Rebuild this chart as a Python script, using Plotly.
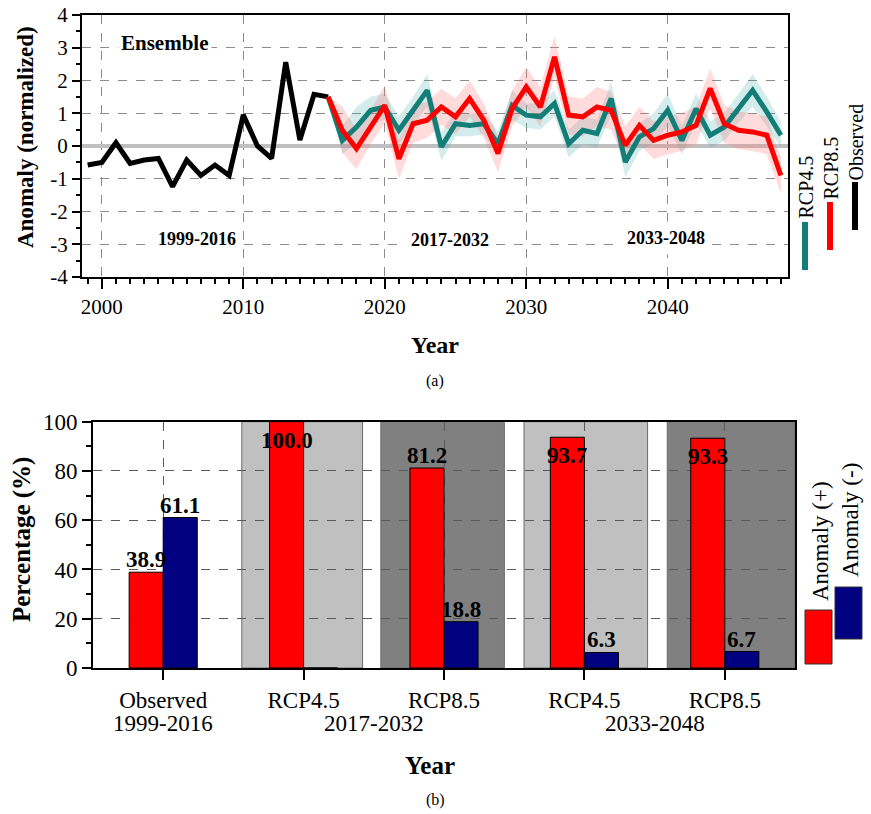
import plotly.graph_objects as go

W, H = 871, 814
FONT = "Liberation Serif, Times New Roman, serif"

# ---------------- data (a) ----------------
obs_years = list(range(1999, 2017))
obs_values = [-0.58, -0.5, 0.1, -0.53, -0.43, -0.38, -1.24, -0.43, -0.9,
              -0.58, -0.9, 0.95, 0.0, -0.38, 2.56, 0.18, 1.58, 1.5]

proj_years = list(range(2016, 2049))
rcp45_mean = [1.5, 0.17, 0.58, 1.09, 1.19, 0.48, 1.09, 1.7, -0.03, 0.68, 0.63,
              0.68, 0.07, 1.24, 0.94, 0.89, 1.3, 0.07, 0.48, 0.38, 1.45, -0.49,
              0.28, 0.53, 1.09, 0.17, 1.14, 0.33, 0.58, 1.14, 1.7, 1.04, 0.33]
rcp45_upper = [1.5, 0.6, 1.2, 1.5, 1.6, 0.9, 1.5, 2.2, 0.4, 1.1, 1.0, 1.0, 0.45,
               1.7, 1.3, 1.3, 1.7, 0.5, 0.9, 0.8, 1.95, -0.05, 0.7, 1.0, 1.6,
               0.6, 1.6, 0.75, 1.0, 1.6, 2.2, 1.5, 0.75]
rcp45_lower = [1.5, -0.25, 0.1, 0.65, 0.8, 0.05, 0.65, 1.2, -0.45, 0.3, 0.3,
               0.35, -0.3, 0.8, 0.55, 0.5, 0.9, -0.35, 0.05, -0.05, 0.95, -0.95,
               -0.15, 0.1, 0.6, -0.25, 0.7, -0.05, 0.15, 0.7, 1.2, 0.6, -0.05]
rcp85_mean = [1.5, 0.48, -0.08, 0.58, 1.24, -0.39, 0.68, 0.79, 1.19, 0.89, 1.45,
              0.79, -0.23, 1.14, 1.8, 1.19, 2.72, 0.94, 0.89, 1.19, 1.09, 0.02,
              0.63, 0.17, 0.33, 0.43, 0.63, 1.76, 0.68, 0.48, 0.43, 0.33, -0.9]
rcp85_upper = [1.5, 1.2, 0.5, 1.1, 1.85, 0.2, 1.25, 1.35, 1.75, 1.45, 2.0, 1.3,
               0.3, 1.7, 2.4, 1.8, 3.35, 1.5, 1.45, 1.8, 1.65, 0.6, 1.2, 0.75,
               0.9, 1.0, 1.2, 2.35, 1.25, 1.05, 1.0, 0.9, -0.35]
rcp85_lower = [1.5, -0.2, -0.7, 0.05, 0.7, -1.0, 0.1, 0.25, 0.65, 0.35, 0.9,
               0.25, -0.8, 0.6, 1.2, 0.6, 2.1, 0.35, 0.3, 0.6, 0.5, -0.55, 0.05,
               -0.4, -0.25, -0.15, 0.05, 1.15, 0.1, -0.1, -0.15, -0.25, -1.45]

y_ticks_a = [-4, -3, -2, -1, 0, 1, 2, 3, 4]
y_ticklabels_a = ["-4", "-3", "-2", "-1", "0", "1", "2", "3", "4"]
x_ticks_a = [2000, 2010, 2020, 2030, 2040]

# ---------------- data (b) ----------------
categories = ["Observed", "RCP4.5", "RCP8.5", "RCP4.5", "RCP8.5"]
periods = ["1999-2016", "2017-2032", "2033-2048"]
period_pos = [0, 1.5, 3.5]
anom_pos = [38.9, 100.0, 81.2, 93.7, 93.3]
anom_neg = [61.1, 0.0, 18.8, 6.3, 6.7]

TEAL = "#137d77"
RED = "#ff0000"
NAVY = "#000080"


def px(x):
    return x / W


def py(y):
    return 1 - y / H


fig = go.Figure()

# ---- (a) traces ----
fig.add_trace(go.Scatter(
    x=proj_years + proj_years[::-1], y=rcp45_upper + rcp45_lower[::-1],
    fill="toself", fillcolor="rgba(60,175,170,0.22)", line=dict(width=0),
    mode="lines", showlegend=False, hoverinfo="skip", xaxis="x", yaxis="y"))
fig.add_trace(go.Scatter(
    x=proj_years + proj_years[::-1], y=rcp85_upper + rcp85_lower[::-1],
    fill="toself", fillcolor="rgba(255,110,110,0.25)", line=dict(width=0),
    mode="lines", showlegend=False, hoverinfo="skip", xaxis="x", yaxis="y"))
fig.add_trace(go.Scatter(x=obs_years, y=obs_values, mode="lines",
                         line=dict(color="black", width=5), showlegend=False,
                         xaxis="x", yaxis="y"))
fig.add_trace(go.Scatter(x=proj_years, y=rcp45_mean, mode="lines",
                         line=dict(color=TEAL, width=5), showlegend=False,
                         xaxis="x", yaxis="y"))
fig.add_trace(go.Scatter(x=proj_years, y=rcp85_mean, mode="lines",
                         line=dict(color=RED, width=5), showlegend=False,
                         xaxis="x", yaxis="y"))

# ---- (b) traces ----
xcat = list(range(len(categories)))
fig.add_trace(go.Bar(x=xcat, y=anom_pos, marker=dict(color=RED, line=dict(color="black", width=1)),
                     showlegend=False, xaxis="x2", yaxis="y2"))
fig.add_trace(go.Bar(x=xcat, y=anom_neg, marker=dict(color=NAVY, line=dict(color="black", width=1)),
                     showlegend=False, xaxis="x2", yaxis="y2"))

annotations = []
shapes = []

# value labels on bars
bw = (1 - 0.515) / 2
for i, v in enumerate(anom_pos):
    top = v > 90
    annotations.append(dict(x=i - bw / 2, y=v, xref="x2", yref="y2",
                            text=f"{v:.1f}", showarrow=False, xanchor="center",
                            yanchor="top" if top else "bottom",
                            yshift=-4 if top else -2,
                            font=dict(family=FONT, size=23, color="black", weight="bold")))
for i, v in enumerate(anom_neg):
    if v <= 0:
        continue
    annotations.append(dict(x=i + bw / 2, y=v, xref="x2", yref="y2",
                            text=f"{v:.1f}", showarrow=False, xanchor="center",
                            yanchor="bottom", yshift=-2,
                            font=dict(family=FONT, size=23, color="black", weight="bold")))

# period labels (second line of x tick labels)
for p, pos in zip(periods, period_pos):
    annotations.append(dict(x=pos, y=py(723), xref="x2", yref="paper", text=p,
                            showarrow=False, xanchor="center", yanchor="middle",
                            font=dict(family=FONT, size=23, color="black")))

# background rects (b)
rects = [(0.56, 1.42, "#c0c0c0"), (1.55, 2.43, "#808080"),
         (2.57, 3.45, "#c0c0c0"), (3.59, 4.5, "#808080")]
for x0, x1, c in rects:
    shapes.append(dict(type="rect", xref="x2", yref="y2", x0=x0, x1=x1, y0=0, y1=100,
                       fillcolor=c, line=dict(color="#6a6a6a", width=1), layer="below"))

# text in (a)
bold = dict(family=FONT, color="black", weight="bold")
annotations.append(dict(x=2004.5, y=3.15, xref="x", yref="y", text="Ensemble", showarrow=False,
                        xanchor="center", yanchor="middle",
                        bgcolor="white", borderpad=2, font=dict(size=21, **bold)))
for t, xx, yy in [("1999-2016", 2006.7, -2.85), ("2017-2032", 2024.6, -2.88),
                  ("2033-2048", 2039.9, -2.82)]:
    annotations.append(dict(x=xx, y=yy, xref="x", yref="y", text=t, showarrow=False,
                            xanchor="center", yanchor="middle",
                            bgcolor="white", borderpad=6, font=dict(size=18, **bold)))


def ptext(x, y, text, font, angle=0):
    return dict(x=px(x), y=py(y), xref="paper", yref="paper", text=text,
                textangle=angle, showarrow=False, xanchor="center", yanchor="middle",
                font=font)


# axis titles & captions
annotations += [
    ptext(26, 137, "Anomaly (normalized)", dict(size=23, **bold), -90),
    ptext(435, 345, "Year", dict(size=24, **bold)),
    ptext(435, 381, "(a)", dict(family=FONT, size=16, color="black")),
    ptext(22, 540, "Percentage (%)", dict(size=25, **bold), -90),
    ptext(430, 765, "Year", dict(size=25, **bold)),
    ptext(435, 800, "(b)", dict(family=FONT, size=16, color="black")),
]

# legend (a)
leg_a = [("RCP4.5", TEAL, 805, 187.5, 222, 270),
         ("RCP8.5", RED, 830, 168.5, 202, 250),
         ("Observed", "black", 855, 142.5, 182, 230)]
for name, col, xx, yc, l0, l1 in leg_a:
    annotations.append(ptext(xx, yc, name, dict(family=FONT, size=20, color="black"), -90))
    shapes.append(dict(type="line", xref="paper", yref="paper", x0=px(xx), x1=px(xx),
                       y0=py(l0), y1=py(l1), line=dict(color=col, width=6)))

# legend (b)
leg_b = [("Anomaly (+)", RED, 805, 832, 610, 664, 820, 541),
         ("Anomaly (-)", NAVY, 835, 862, 587, 639, 850, 520)]
for name, col, x0, x1, y0, y1, tx, ty in leg_b:
    shapes.append(dict(type="rect", xref="paper", yref="paper", x0=px(x0), x1=px(x1),
                       y0=py(y1), y1=py(y0), fillcolor=col, line=dict(color="#333", width=1)))
    annotations.append(ptext(tx, ty, name, dict(family=FONT, size=23, color="black"), -90))

axis_common = dict(showline=True, linecolor="black", linewidth=2, mirror=True,
                   ticks="outside", tickcolor="black", tickwidth=1.5, automargin=False,
                   zeroline=False, griddash="dash", ticklabeloverflow="allow")
tf21 = dict(family=FONT, size=21, color="black")
tf23 = dict(family=FONT, size=23, color="black")

fig.update_layout(
    template="none",
    width=W, height=H, margin=dict(l=0, r=0, t=0, b=0, pad=0), autosize=False,
    paper_bgcolor="white", plot_bgcolor="white",
    font=dict(family=FONT, color="black"),
    showlegend=False,
    barmode="group", bargap=0.515, bargroupgap=0,
    xaxis=dict(domain=[px(82), px(788)], anchor="y", range=[1998.6, 2048.5],
               tickvals=x_ticks_a, ticklen=10, showgrid=True, gridcolor="#8c8c8c",
               gridwidth=1, tickfont=tf21,
               minor=dict(dtick=1, tick0=2000, ticks="outside", ticklen=5,
                          tickcolor="black", showgrid=False),
               **axis_common),
    yaxis=dict(domain=[py(277), py(15)], anchor="x", range=[-4, 4],
               tickvals=y_ticks_a, ticktext=y_ticklabels_a, ticklen=8,
               showgrid=True, gridcolor="#8c8c8c", gridwidth=1, tickfont=tf21,
               minor=dict(dtick=0.5, tick0=0, ticks="outside", ticklen=4,
                          tickcolor="black", showgrid=False),
               **{k: v for k, v in axis_common.items() if k != "zeroline"},
               zeroline=True, zerolinecolor="#c0c0c0", zerolinewidth=4),
    xaxis2=dict(domain=[px(93), px(795)], anchor="y2", range=[-0.5, 4.5],
                tickvals=xcat, ticktext=categories, ticklen=10,
                showgrid=True, gridcolor="#5a5a5a", gridwidth=1, tickfont=tf23,
                **axis_common),
    yaxis2=dict(domain=[py(668), py(421.7)], anchor="x2", range=[0, 100],
                tickvals=[0, 20, 40, 60, 80, 100], ticklen=9,
                showgrid=True, gridcolor="#5a5a5a", gridwidth=1, tickfont=tf23,
                minor=dict(dtick=10, tick0=0, ticks="outside", ticklen=5,
                           tickcolor="black", showgrid=False),
                **axis_common),
    annotations=annotations,
    shapes=shapes,
)

# remove the browser's default 8px body margin so the figure fills the window
fig.write_html("out.html",
               config={"displayModeBar": False},
               post_script="document.body.style.margin='0px';document.body.style.overflow='hidden';")
